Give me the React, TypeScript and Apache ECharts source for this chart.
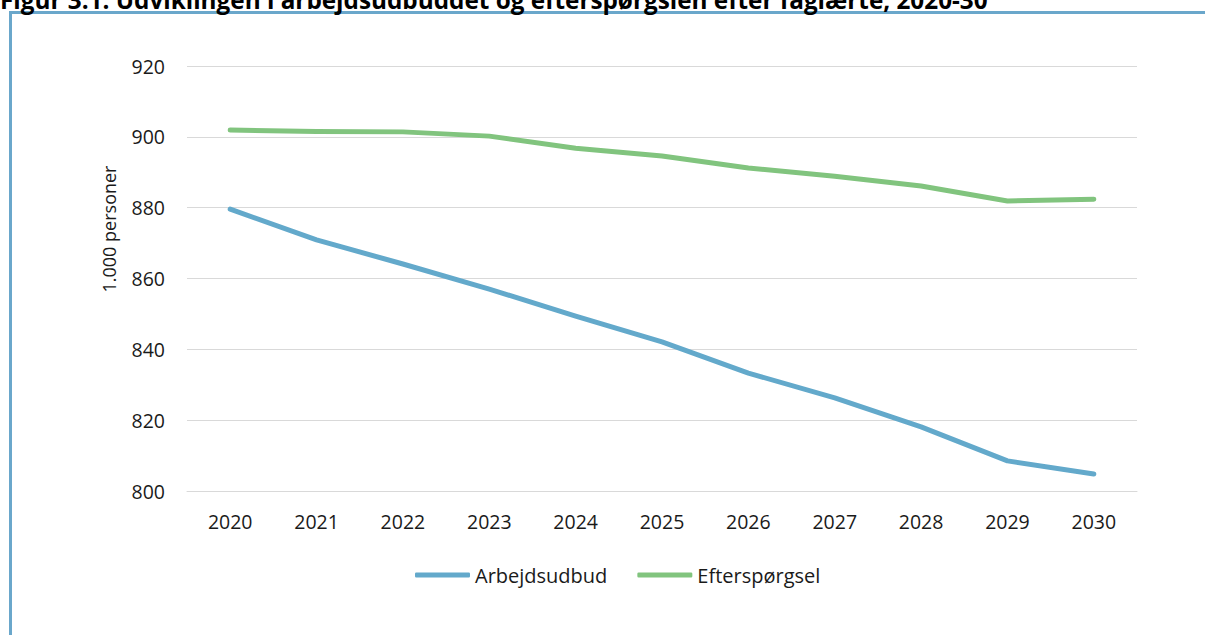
import React, { useEffect, useRef } from "react";
import * as echarts from "echarts";

const years = ["2020", "2021", "2022", "2023", "2024", "2025", "2026", "2027", "2028", "2029", "2030"];
const arbejdsudbud = [879.6, 870.9, 864.1, 857.0, 849.4, 842.1, 833.3, 826.3, 818.1, 808.5, 804.8];
const efterspoergsel = [901.9, 901.5, 901.4, 900.2, 896.8, 894.6, 891.2, 888.9, 886.1, 881.9, 882.4];
const seriesNames = ["Arbejdsudbud", "Efterspørgsel"];
const titleText = "Figur 3.1: Udviklingen i arbejdsudbuddet og efterspørgslen efter faglærte, 2020-30";
const yAxisName = "1.000 personer";

const BLUE = "#63a9cb";
const GREEN = "#81c47e";
const FONT = "'Open Sans', 'Noto Sans', sans-serif";
const TXT = "#1a1a1a";

export default function App() {
  const ref = useRef<HTMLDivElement>(null);
  useEffect(() => {
    if (!ref.current) return;
    const chart = echarts.init(ref.current, null, { renderer: "svg" });
    chart.setOption({
      animation: false,
      backgroundColor: "#ffffff",
      textStyle: { fontFamily: FONT },
      grid: { left: 187, right: 68, top: 66, bottom: 144, containLabel: false },
      graphic: [
        {
          type: "rect",
          shape: { x: 10.5, y: 12.5, width: 1400, height: 800 },
          style: { fill: "none", stroke: "#6aa7cb", lineWidth: 3 },
          silent: true,
        },
        {
          type: "text",
          x: 0,
          y: 11,
          style: {
            text: titleText,
            font: "bold 24.3px 'Open Sans', sans-serif",
            fill: "#000000",
            textVerticalAlign: "bottom",
          },
          silent: true,
        },
        {
          type: "text",
          x: 109,
          y: 229,
          rotation: Math.PI / 2,
          style: {
            text: yAxisName,
            font: "18px 'Open Sans', sans-serif",
            fill: TXT,
            textAlign: "center",
            textVerticalAlign: "middle",
          },
          silent: true,
        },
      ],
      legend: {
        left: 410,
        top: 560,
        itemWidth: 55,
        itemHeight: 5,
        itemGap: 30,
        icon: "roundRect",
        textStyle: { fontSize: 20, color: TXT, fontFamily: FONT },
        data: seriesNames,
      },
      xAxis: {
        type: "category",
        data: years,
        boundaryGap: true,
        axisLine: { show: true, lineStyle: { color: "#d9d9d9", width: 1 } },
        axisTick: { show: false },
        axisLabel: { color: TXT, fontSize: 19.5, margin: 20, fontFamily: FONT },
      },
      yAxis: {
        type: "value",
        min: 800,
        max: 920,
        interval: 20,
        axisLine: { show: false },
        axisTick: { show: false },
        axisLabel: { color: TXT, fontSize: 19.5, margin: 22, fontFamily: FONT },
        splitLine: { show: true, lineStyle: { color: "#d9d9d9", width: 1 } },
      },
      series: [
        {
          name: seriesNames[0],
          type: "line",
          data: arbejdsudbud,
          symbol: "none",
          lineStyle: { color: BLUE, width: 5, cap: "round", join: "round" },
          itemStyle: { color: BLUE },
        },
        {
          name: seriesNames[1],
          type: "line",
          data: efterspoergsel,
          symbol: "none",
          lineStyle: { color: GREEN, width: 5, cap: "round", join: "round" },
          itemStyle: { color: GREEN },
        },
      ],
    });
    return () => chart.dispose();
  }, []);
  return (
    <div
      ref={ref}
      style={{ position: "absolute", left: 0, top: 0, width: 1205, height: 635 }}
    />
  );
}
